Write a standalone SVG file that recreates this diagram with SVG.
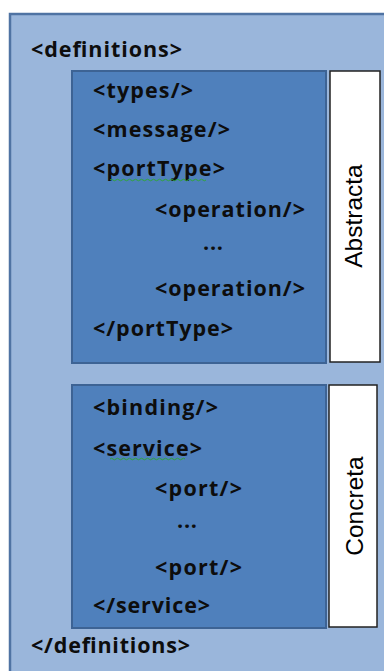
<svg xmlns="http://www.w3.org/2000/svg" width="384" height="671" viewBox="0 0 384 671">
  <style>
    .outer { fill: #9ab6db; stroke: #4f73a3; stroke-width: 2.5; }
    .block { fill: #4f80bc; stroke: #3d6394; stroke-width: 2; }
    .tag { font-family: "Open Sans", "DejaVu Sans", sans-serif; font-weight: bold; font-size: 21.5px; fill: #0d0d0d; }
    .side { fill: #ffffff; stroke: #222222; stroke-width: 1.5; }
    .sidelabel { font-family: "Liberation Sans", Arial, sans-serif; font-size: 24.5px; fill: #000000; }
    .squiggle { fill: none; stroke: #2fa63a; stroke-width: 1; }
  </style>

  <rect width="384" height="671" fill="#ffffff"/>

  <!-- definitions container -->
  <g id="definitions">
    <rect class="outer" x="10" y="14" width="390" height="680"/>
    <text class="tag" x="31" y="57" textLength="151" lengthAdjust="spacing">&lt;definitions&gt;</text>
    <text class="tag" x="31" y="653" textLength="159" lengthAdjust="spacing">&lt;/definitions&gt;</text>
  </g>

  <!-- abstract part -->
  <g id="abstract-block">
    <rect class="block" x="72" y="71" width="254" height="292"/>
    <text class="tag" x="93" y="98" textLength="100" lengthAdjust="spacing">&lt;types/&gt;</text>
    <text class="tag" x="93" y="137" textLength="137" lengthAdjust="spacing">&lt;message/&gt;</text>
    <text class="tag" x="93" y="176" textLength="132" lengthAdjust="spacing">&lt;portType&gt;</text>
    <path class="squiggle" d="M110 180 q1.5 -1.5 3 0 t3 0 t3 0 t3 0 t3 0 t3 0 t3 0 t3 0 t3 0 t3 0 t3 0 t3 0 t3 0 t3 0 t3 0 t3 0 t3 0 t3 0 t3 0 t3 0 t3 0 t3 0 t3 0 t3 0 t3 0 t3 0 t3 0 t3 0 t3 0 t3 0 t3 0 t3 0"/>
    <text class="tag" x="155" y="217" textLength="150" lengthAdjust="spacing">&lt;operation/&gt;</text>
    <text class="tag" x="203" y="250" textLength="20" lengthAdjust="spacing">...</text>
    <text class="tag" x="155" y="296" textLength="150" lengthAdjust="spacing">&lt;operation/&gt;</text>
    <text class="tag" x="93" y="336" textLength="140" lengthAdjust="spacing">&lt;/portType&gt;</text>
  </g>

  <g id="abstract-label">
    <rect class="side" x="330" y="71" width="50" height="291"/>
    <text class="sidelabel" transform="translate(362 216) rotate(-90)" text-anchor="middle">Abstracta</text>
  </g>

  <!-- concrete part -->
  <g id="concrete-block">
    <rect class="block" x="72" y="385" width="254" height="243"/>
    <text class="tag" x="93" y="415" textLength="125" lengthAdjust="spacing">&lt;binding/&gt;</text>
    <text class="tag" x="93" y="456" textLength="109" lengthAdjust="spacing">&lt;service&gt;</text>
    <path class="squiggle" d="M110 459 q1.5 -1.5 3 0 t3 0 t3 0 t3 0 t3 0 t3 0 t3 0 t3 0 t3 0 t3 0 t3 0 t3 0 t3 0 t3 0 t3 0 t3 0 t3 0 t3 0 t3 0 t3 0 t3 0 t3 0 t3 0 t3 0 t3 0"/>
    <text class="tag" x="155" y="496" textLength="87" lengthAdjust="spacing">&lt;port/&gt;</text>
    <text class="tag" x="177" y="528" textLength="20" lengthAdjust="spacing">...</text>
    <text class="tag" x="155" y="575" textLength="87" lengthAdjust="spacing">&lt;port/&gt;</text>
    <text class="tag" x="93" y="613" textLength="117" lengthAdjust="spacing">&lt;/service&gt;</text>
  </g>

  <g id="concrete-label">
    <rect class="side" x="329" y="385" width="48" height="242"/>
    <text class="sidelabel" transform="translate(363 506) rotate(-90)" text-anchor="middle">Concreta</text>
  </g>

  <g id="connectors"/>
</svg>
